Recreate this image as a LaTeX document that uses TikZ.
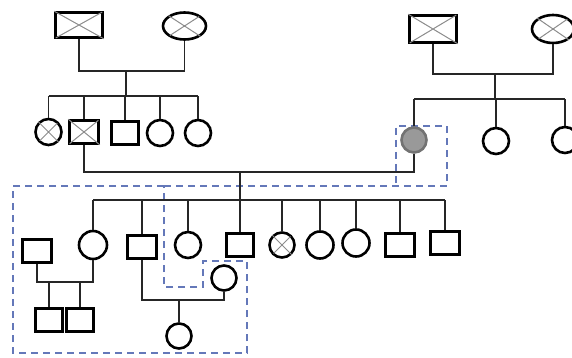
\documentclass[tikz,border=0pt]{standalone}
\usetikzlibrary{shapes.geometric}
\definecolor{dashblue}{RGB}{100,120,185}
\begin{document}
\begin{tikzpicture}[x=1pt,y=-1pt,
  lnk/.style={line width=1.8pt,black!85},
  male/.style={draw,line width=2.6pt,rectangle,minimum width=29pt,minimum height=23pt,inner sep=0pt},
  female/.style={draw,line width=2.6pt,circle,minimum size=26pt,inner sep=0pt},
  oval/.style={draw,line width=2.6pt,ellipse,minimum width=43pt,minimum height=27pt,inner sep=0pt},
  xline/.style={black!45,line width=1pt,shorten >=1.8pt,shorten <=1.8pt},
  affected/.style={fill=black!40,draw=black!55},
  region/.style={dashblue,line width=1.8pt,dash pattern=on 7pt off 5pt}
]
\useasboundingbox (0,0) rectangle (572,358);
\fill[white] (0,0) rectangle (572,358);

% dashed regions
\draw[region] (164,186) -- (13,186) -- (13,353) -- (247,353) -- (247,261) -- (203,261) -- (203,287) -- (164,287) -- cycle;
\draw[region] (164,186) -- (447,186) -- (447,126) -- (396,126) -- (396,186);

% generation I
\node[male,minimum width=47pt,minimum height=25pt] (gf1) at (79,25) {};
\node[oval] (gm1) at (184.5,26) {};
\node[male,minimum width=47pt,minimum height=27pt] (gf2) at (433,29) {};
\node[oval,minimum width=42pt,minimum height=28pt] (gm2) at (553,29) {};

% generation II
\node[female] (c1) at (48.5,132) {};
\node[male] (c2) at (84,132) {};
\node[male,minimum width=27pt] (c3) at (125,133) {};
\node[female] (c4) at (160,133) {};
\node[female] (c5) at (198,133) {};
\node[female,affected,minimum size=25pt] (c6) at (414,140) {};
\node[female] (c7) at (496,141) {};
\node[female] (c8) at (565,140) {};

% generation III
\node[female,minimum size=28pt] (d1) at (93,245) {};
\node[male] (d2) at (142,247) {};
\node[female] (d3) at (188,245) {};
\node[male,minimum width=27pt] (d4) at (240,245) {};
\node[female,minimum size=25pt] (d5) at (282,245) {};
\node[female,minimum size=27pt] (d6) at (320,245) {};
\node[female,minimum size=27pt] (d7) at (356,243) {};
\node[male] (d8) at (400,245) {};
\node[male] (d9) at (445,243) {};
\node[male] (sp1) at (37,251) {};
\node[female,minimum size=25pt] (sp2) at (224,278) {};

% generation IV
\node[male,minimum width=27pt] (e1) at (49,320) {};
\node[male,minimum width=27pt] (e2) at (80,320) {};
\node[female,minimum size=25pt] (e3) at (179,336) {};

% crosses
\foreach \n in {gf1,gm1,gf2,gm2,c1,c2,d5}
  \draw[xline] (\n.north west) -- (\n.south east) (\n.north east) -- (\n.south west);

% coordinates
\coordinate (m1) at (126,71);
\coordinate (s1) at (126,96);
\coordinate (m2) at (495,74);
\coordinate (s2) at (495,99);
\coordinate (m3) at (240,172);
\coordinate (s3) at (240,200);
\coordinate (m4) at (64,282);
\coordinate (m5) at (179,300);

% connectors gen I -> II (left)
\draw[lnk] (gf1.south) |- (m1) -| (gm1.south);
\draw[lnk] (m1) -- (s1);
\draw[lnk] (c1.north |- s1) -- (c5.north |- s1);
\foreach \n in {c1,c2,c3,c4,c5} \draw[lnk] (\n.north) -- (\n.north |- s1);

% connectors gen I -> II (right)
\draw[lnk] (gf2.south) |- (m2) -| (gm2.south);
\draw[lnk] (m2) -- (s2);
\draw[lnk] (c6.north |- s2) -- (c8.north |- s2);
\foreach \n in {c6,c7,c8} \draw[lnk] (\n.north) -- (\n.north |- s2);

% marriage c2 x c6
\draw[lnk] (c2.south) |- (m3) -| (c6.south);
\draw[lnk] (m3) -- (s3);
\draw[lnk] (d1.north |- s3) -- (d9.north |- s3);
\foreach \n in {d1,d2,d3,d4,d5,d6,d7,d8,d9} \draw[lnk] (\n.north) -- (\n.north |- s3);

% family sp1 x d1
\draw[lnk] (sp1.south) |- (m4) -| (d1.south);
\draw[lnk] (e1.north) -- (e1.north |- m4);
\draw[lnk] (e2.north) -- (e2.north |- m4);

% family d2 x sp2
\draw[lnk] (d2.south) |- (m5) -| (sp2.south);
\draw[lnk] (m5) -- (e3.north);
\end{tikzpicture}
\end{document}
